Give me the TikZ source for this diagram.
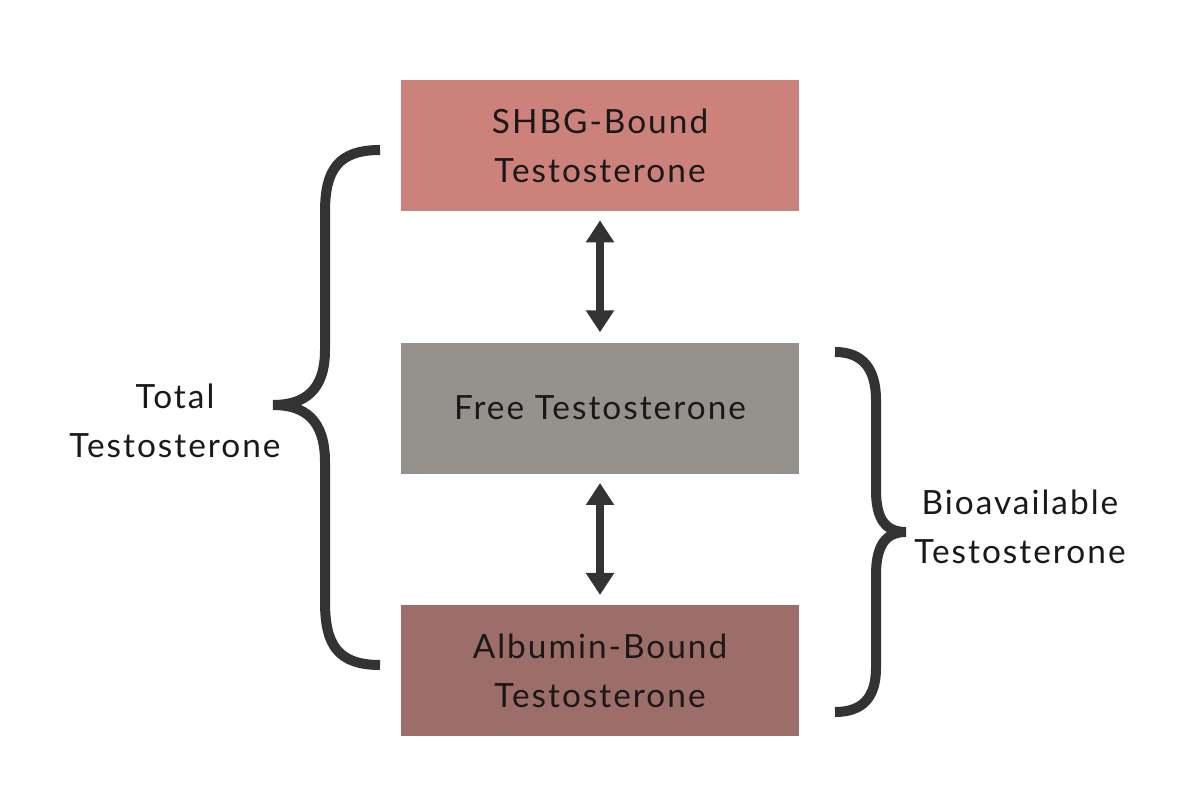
\documentclass[tikz,border=0pt]{standalone}
\usepackage{fontspec}
\setmainfont{Lato}[LetterSpace=6]
\usepackage{xcolor}
\usetikzlibrary{positioning,arrows.meta}

\definecolor{shbgred}{HTML}{CD817B}
\definecolor{freegray}{HTML}{95928E}
\definecolor{albrown}{HTML}{9D6D6A}
\definecolor{inkgray}{HTML}{333333}

\begin{document}
\begin{tikzpicture}[x=0.02cm, y=-0.02cm, node distance=2.62cm,
    every node/.style={font=\fontsize{19}{28}\selectfont, text=black!90},
    level/.style={minimum width=7.96cm, minimum height=2.62cm, align=center, inner sep=0pt},
    arrow/.style={{Triangle[width=0.54cm,length=0.44cm]}-{Triangle[width=0.54cm,length=0.44cm]}, line width=0.16cm, draw=inkgray, shorten <=0.18cm, shorten >=0.2cm},
    curly/.style={line width=0.2cm, draw=inkgray},
]
\useasboundingbox (0,0) rectangle (1200,800);

\node[level, fill=shbgred] (shbg) at (600,145.5) {SHBG-Bound\\Testosterone};
\node[level, fill=freegray, below=of shbg] (free) {Free Testosterone};
\node[level, fill=albrown, below=of free] (albumin) {Albumin-Bound\\Testosterone};

\draw[arrow] (shbg) -- (free);
\draw[arrow] (free) -- (albumin);

% left brace
\draw[curly] (380,150) .. controls (338,150) and (325,170) .. (325,212) -- (325,350)
    .. controls (325,390) and (305,405) .. (273,405)
    .. controls (305,405) and (325,420) .. (325,462) -- (325,602)
    .. controls (325,645) and (338,665) .. (380,665);
\node[align=center] (total) at (175,421) {Total\\Testosterone};

% right brace
\draw[curly] (835,352) .. controls (862,352) and (876,368) .. (876,400) -- (876,490)
    .. controls (876,520) and (886,532) .. (906,532)
    .. controls (886,532) and (876,545) .. (876,575) -- (876,668)
    .. controls (876,698) and (862,712) .. (835,712);
\node[align=center] (bio) at (1020,527) {Bioavailable\\Testosterone};
\end{tikzpicture}
\end{document}
